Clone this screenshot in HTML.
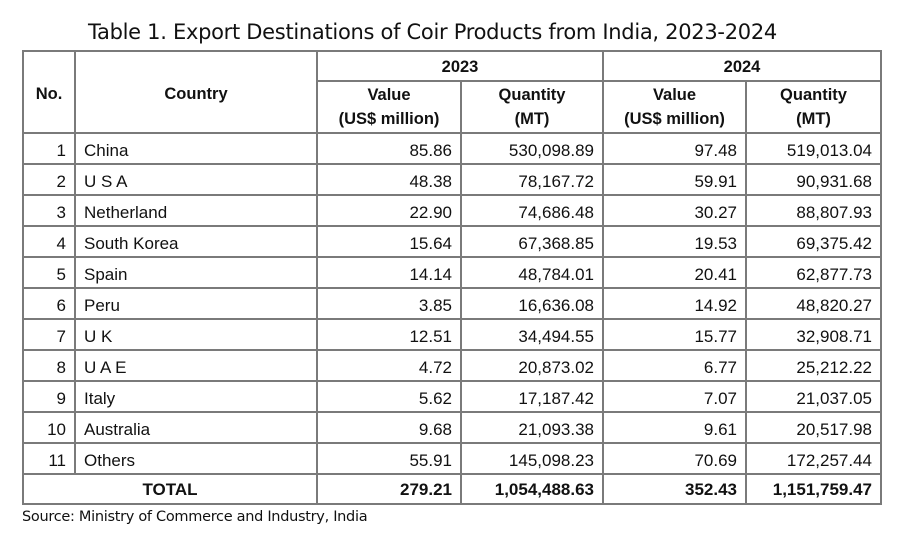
<!DOCTYPE html>
<html><head><meta charset="utf-8"><style>
body{margin:0;width:904px;height:545px;background:#fff;position:relative;font-family:"Liberation Sans",sans-serif;color:#111;overflow:hidden}
.title{position:absolute;left:88px;top:20px;font-size:21px;font-family:"DejaVu Sans","Liberation Sans",sans-serif;letter-spacing:-0.3px;white-space:nowrap}
table{position:absolute;left:22px;top:50px;border-collapse:collapse;table-layout:fixed}
td{border:2px solid #7a7a7a;padding:4px 8px 0 8px;font-size:17px;height:25px;line-height:18px;text-align:right;white-space:nowrap;vertical-align:middle}
td.c{text-align:left}
th{border:2px solid #7a7a7a;font-size:16.5px;font-weight:bold;text-align:center;line-height:24px;padding:0}
.b td{font-weight:bold;padding-top:1px}
.src{position:absolute;left:22px;top:509px;font-size:14.5px;font-family:"DejaVu Sans","Liberation Sans",sans-serif;letter-spacing:-0.3px}
</style></head><body>
<div class="title">Table 1. Export Destinations of Coir Products from India, 2023-2024</div>
<table>
<colgroup><col style="width:52px"><col style="width:242px"><col style="width:144px"><col style="width:142px"><col style="width:143px"><col style="width:135px"></colgroup>
<tr style="height:30px"><th rowspan="2" style="vertical-align:top;padding-top:30px">No.</th><th rowspan="2" style="vertical-align:top;padding-top:30px">Country</th><th colspan="2" style="padding-top:2px">2023</th><th colspan="2" style="padding-top:2px">2024</th></tr>
<tr style="height:52px"><th>Value<br>(US$ million)</th><th>Quantity<br>(MT)</th><th>Value<br>(US$ million)</th><th>Quantity<br>(MT)</th></tr>
<tr><td>1</td><td class="c">China</td><td>85.86</td><td>530,098.89</td><td>97.48</td><td>519,013.04</td></tr>
<tr><td>2</td><td class="c">U S A</td><td>48.38</td><td>78,167.72</td><td>59.91</td><td>90,931.68</td></tr>
<tr><td>3</td><td class="c">Netherland</td><td>22.90</td><td>74,686.48</td><td>30.27</td><td>88,807.93</td></tr>
<tr><td>4</td><td class="c">South Korea</td><td>15.64</td><td>67,368.85</td><td>19.53</td><td>69,375.42</td></tr>
<tr><td>5</td><td class="c">Spain</td><td>14.14</td><td>48,784.01</td><td>20.41</td><td>62,877.73</td></tr>
<tr><td>6</td><td class="c">Peru</td><td>3.85</td><td>16,636.08</td><td>14.92</td><td>48,820.27</td></tr>
<tr><td>7</td><td class="c">U K</td><td>12.51</td><td>34,494.55</td><td>15.77</td><td>32,908.71</td></tr>
<tr><td>8</td><td class="c">U A E</td><td>4.72</td><td>20,873.02</td><td>6.77</td><td>25,212.22</td></tr>
<tr><td>9</td><td class="c">Italy</td><td>5.62</td><td>17,187.42</td><td>7.07</td><td>21,037.05</td></tr>
<tr><td>10</td><td class="c">Australia</td><td>9.68</td><td>21,093.38</td><td>9.61</td><td>20,517.98</td></tr>
<tr><td>11</td><td class="c">Others</td><td>55.91</td><td>145,098.23</td><td>70.69</td><td>172,257.44</td></tr>
<tr class="b"><td colspan="2" style="text-align:center;height:27px">TOTAL</td><td>279.21</td><td>1,054,488.63</td><td>352.43</td><td>1,151,759.47</td></tr>
</table>
<div class="src">Source: Ministry of Commerce and Industry, India</div>
</body></html>
